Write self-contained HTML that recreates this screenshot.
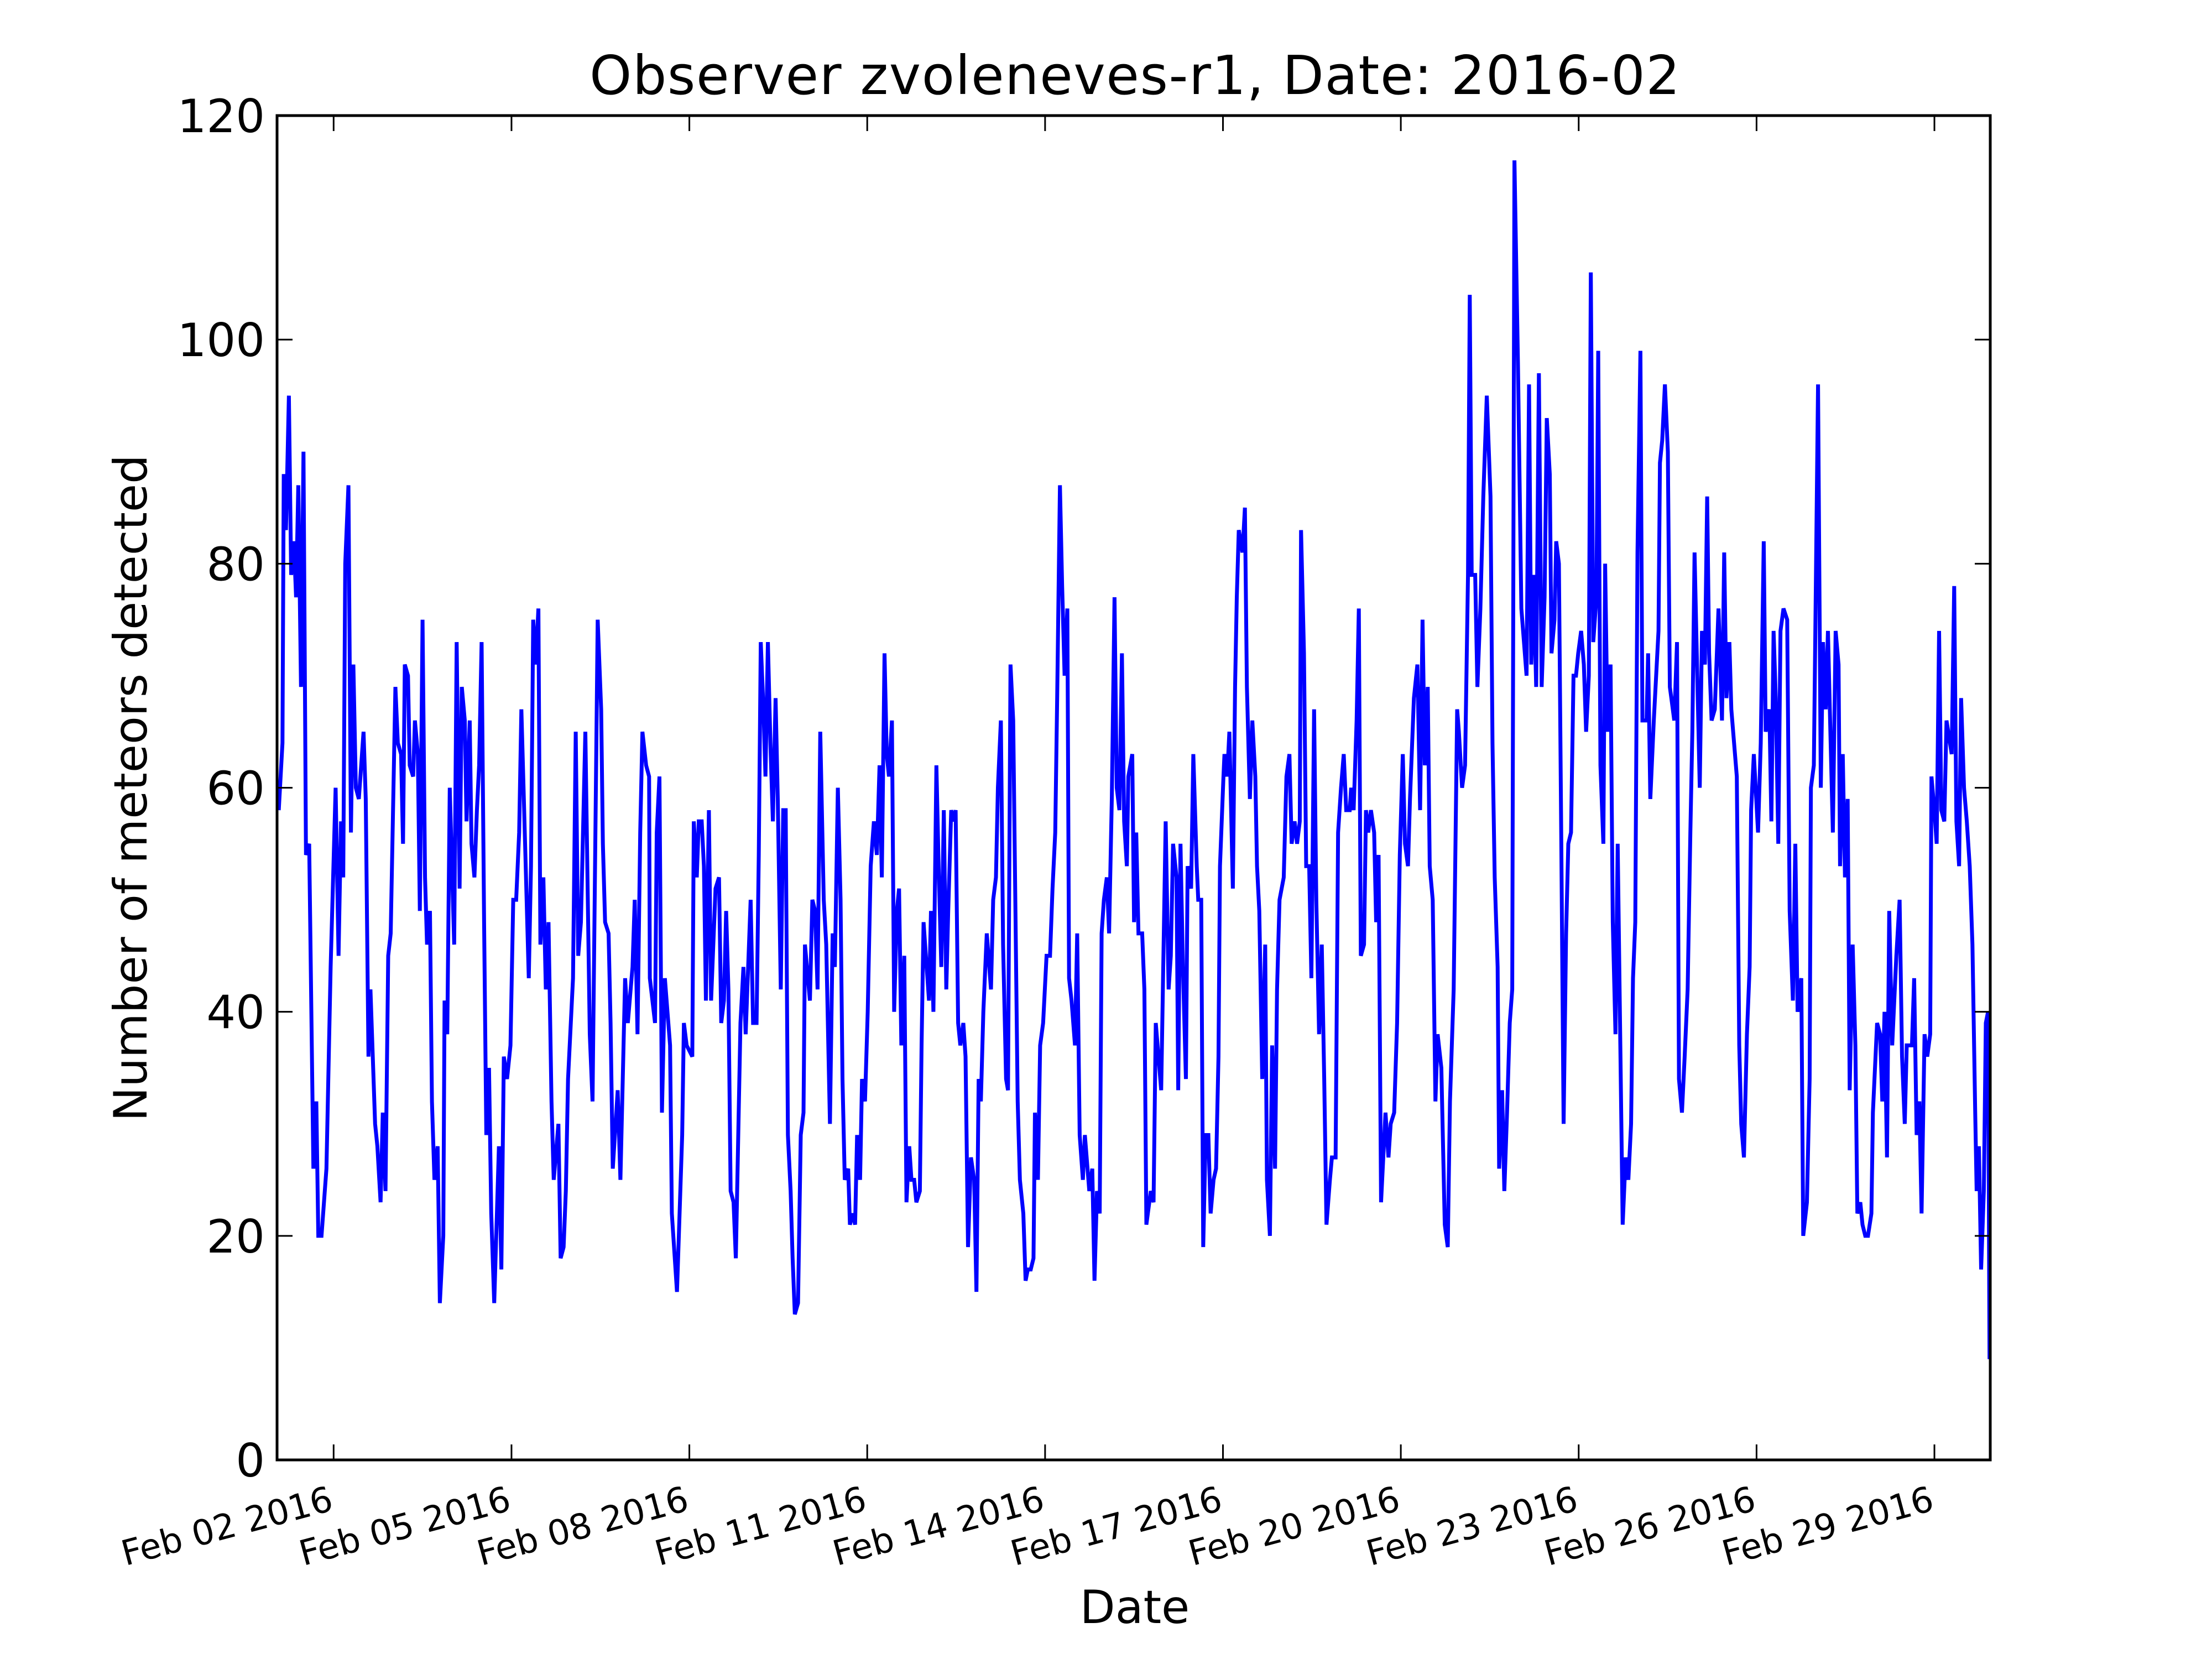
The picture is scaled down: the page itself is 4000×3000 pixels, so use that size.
<!DOCTYPE html>
<html>
<head>
<meta charset="utf-8">
<style>
html,body{margin:0;padding:0;background:#fff;}
svg{display:block;}
text{font-family:"DejaVu Sans","Liberation Sans",sans-serif;fill:#000;}
</style>
</head>
<body>
<svg id="chart" width="4000" height="3000" viewBox="0 0 4000 3000" xmlns="http://www.w3.org/2000/svg">
<rect x="0" y="0" width="4000" height="3000" fill="#fff"/>
<text x="2052" y="170" font-size="97" text-anchor="middle" textLength="1972">Observer zvoleneves-r1, Date: 2016-02</text>
<text x="2052" y="2935" font-size="83" text-anchor="middle">Date</text>
<text transform="translate(265,1425) rotate(-90)" font-size="83" text-anchor="middle">Number of meteors detected</text>
<g id="series"></g>
<g id="axes"></g>
</svg>
<script>
// hours since 2016-02-01 00:00
const hours = [1.8,3.3,3.8,4.7,5.9,6.8,7.9,8.8,9.7,10.8,11.8,12.8,14.1,15.8,17,17.8,19.1,21.1,22.8,24.8,26,27,27.9,28.7,30,31,32,33,34.2,36.1,37,38.1,38.9,40.8,41.7,43,43.9,45,46.1,47.1,49,50,51.3,52.1,52.8,54.1,54.8,56.2,56.9,58.1,58.9,60,61,61.8,63,63.8,64.8,66.1,67,68.4,68.9,70,71,72.8,73.8,75,75.9,77.1,77.8,79.1,79.8,81,82,82.9,83.9,84.9,85.8,86.9,87.8,89,90.9,91.9,92.9,94.2,95.6,96.7,97.9,99.1,100,101,103,103.9,104.8,105.8,106.9,107.7,108.9,109.9,111,112.2,113.1,115,115.9,117.1,118,118.9,120.9,122,123,124.1,125.9,127.7,128.8,130.9,132.3,133,133.9,135.3,136.1,137,139,140.1,142,143.1,145,145.9,147,148.1,149,150.5,151.7,152,154.1,154.8,155.9,156.9,158.1,160.2,160.9,163,165.1,165.8,166.9,169.2,169.8,171,171.8,173,173.9,174.7,175.9,176.8,178.6,
180,180.9,182,182.9,183.8,184.7,185.9,186.8,188.7,189.9,190.8,192.8,193.8,195.2,196.1,196.9,198,198.8,199.8,200.8,201.8,202.9,203.8,205,206,207,207.9,209,209.8,210.7,212,213.1,214.2,214.8,216.8,217.8,218.9,219.9,221,222.4,223.4,224.9,226,226.9,228.1,229.2,230,230.9,232.3,233,234.2,235.1,235.9,237.1,237.9,239.1,240.2,241.4,242.7,243.9,245,245.9,247,247.9,248.8,250,250.9,252,252.9,253.8,255,255.9,257,257.9,259,259.9,261.3,262,262.8,265,265.8,266.8,268,269,270,271,272,272.8,274,274.9,275.8,276.8,277.7,278.9,279.8,280.8,282,283.3,284.2,285.1,286,287,288.4,290.1,291,292.1,292.9,294.1,295,296.2,297,298,299.1,300.9,301.8,303.2,304.1,305,306.2,307.3,307.9,309.1,310,311.2,312.6,314,315,316.1,316.9,318,318.9,319.9,321,321.7,322.7,324.1,325,326,327.3,328.1,329.9,331.1,332,333,334.1,334.9,335.8,337,337.9,339,340.1,341,342.1,343.1,344,345.1,345.7,347.3,348,348.9,349.8,351.3,352.2,353,354.8,
355.9,356.8,359,360.8,362,362.9,363.8,365.2,365.9,366.8,367.8,369,369.7,371.1,372,373.4,374,375.2,376,377,378.1,379,380.2,381.2,382.2,382.8,384.2,384.6,385.7,386.6,388,388.9,389.6,390.4,391.9,392.9,393.7,394.9,395.9,397.1,397.8,398.7,399.9,401.1,401.8,403,403.9,405.1,405.9,406.9,408.6,409.7,410.9,411.8,413,414,415.1,415.6,416.8,417.7,418.9,419.8,420.9,421.8,422.9,424,425,425.9,427.3,428.1,429.6,430.6,431.8,432.9,433.9,435.3,435.9,436.9,438.1,439,439.8,441.1,441.9,442.8,443.9,445.2,446,447,448,449.8,451,451.9,453.3,454.5,455.6,456.8,457.7,458.9,459.7,461.3,462.7,463.8,464.8,465.7,466.9,467.7,468.9,470,470.9,472.4,473.8,475,475.9,477.4,478.8,479.5,480.8,482,483.2,483.9,484.7,486.1,487,488.2,489.4,490.8,492.3,493.1,494,495.2,495.8,497,497.9,499,500.1,501.1,502,503.4,504.8,506.9,507.9,508.8,509.7,510.8,511.9,513,514.2,515.1,516.3,517,518.2,518.9,520,521,521.9,522.9,523.8,524.9,525.9,526.9,527.8,529,530.1,531,532.1,532.9,533.9,
535.2,535.9,536.8,538,538.7,539.7,540.9,541.8,542.9,543.8,545.8,547,548.1,549.2,550,550.9,551.8,553,553.8,555.5,556.1,557,558.4,560.3,560.9,561.8,562.9,564.1,564.9,565.5,566.7,567.8,568.6,569.8,570.9,572.1,573.2,574,574.9,575.8,577,577.9,579.1,580,580.8,581.8,583.1,584.6,586,586.9,587.8,589,589.8,592,593,593.8,594.9,596.1,597.2,597.8,598.9,600.6,601.7,602.9,603.7,605.2,606,606.9,607.8,608.8,609.7,610.9,612.4,613.4,614.7,615.7,616.6,618.1,618.9,620.4,621.5,622,623.2,624,624.9,626,626.9,628,628.9,630,630.9,632,633.2,633.8,634.9,635.8,636.9,637.7,638.9,640,640.8,642,642.9,644,645.1,646.5,647.1,648.8,650,650.9,651.8,652.8,653.7,654.9,656.6,657.9,658.9,660,660.8,662.9,663.8,664.8,665.9,666.8,668,669.1,670.3,670.8,672,672.9,673.9,674.8,676,676.9,679,680,680.9,682,682.8,684,685.1,686.3,687.4,688.5,689.1,690,690.9,692,692.8,693.7,694.3];
const counts = [58,64,88,83,95,79,82,77,87,69,90,54,55,26,32,20,20,26,44,60,45,57,52,80,87,56,71,60,59,65,59,36,42,30,28,23,31,24,45,47,69,64,63,55,71,70,62,61,66,63,49,75,52,46,49,32,25,28,14,20,41,38,60,46,73,51,69,66,57,66,55,52,58,62,73,48,29,35,22,14,28,17,36,34,37,50,50,56,67,59,43,53,75,71,76,46,52,42,48,32,25,30,18,19,24,34,43,65,45,48,65,38,32,75,67,55,48,47,39,26,33,25,43,39,44,50,38,56,65,62,61,43,39,56,61,31,43,37,22,15,29,39,37,36,57,52,57,57,53,41,58,41,51,
52,39,41,49,42,24,23,18,39,44,38,50,39,39,54,73,67,61,73,64,57,68,59,42,58,58,29,24,18,13,14,29,31,46,41,50,49,42,65,50,46,30,47,44,60,50,34,25,26,21,22,21,29,25,34,32,40,53,57,54,62,52,72,63,61,66,40,49,51,37,45,23,28,25,25,23,24,37,48,41,49,40,62,52,44,58,42,49,58,57,58,39,37,39,36,19,27,25,15,34,32,40,47,42,50,52,60,66,46,34,33,71,66,32,25,22,16,17,17,18,31,25,37,39,45,45,51,56,68,87,78,70,76,43,41,37,47,29,25,29,24,26,16,24,22,47,50,52,47,59,77,60,58,72,57,53,61,63,48,56,47,47,42,21,24,
23,39,33,57,42,45,55,52,33,55,44,34,53,51,63,53,50,50,19,29,29,22,25,26,36,53,61,63,61,65,51,69,77,83,81,85,69,59,66,61,53,49,34,46,25,20,37,26,42,50,52,61,63,55,57,55,57,83,72,53,53,43,67,50,38,46,34,21,25,27,27,56,60,63,58,58,60,58,66,76,45,46,58,56,58,56,48,54,23,31,27,30,31,39,54,63,55,53,59,68,71,58,75,62,69,53,50,32,38,35,21,19,32,42,67,65,60,62,79,104,79,79,69,76,86,95,86,64,52,44,26,33,24,31,39,42,116,98,76,70,96,71,79,69,97,69,77,93,88,72,75,82,80,54,30,47,55,56,70,70,72,74,71,65,70,106,73,
77,99,62,55,80,65,71,48,38,55,21,27,25,30,43,48,81,99,66,66,72,59,66,74,89,91,96,90,69,68,66,73,34,31,36,42,56,65,81,72,60,74,71,86,72,66,67,76,66,81,68,73,67,61,37,30,27,38,44,58,63,56,64,82,65,67,57,74,68,55,74,76,75,49,41,55,40,43,20,23,34,60,62,78,96,60,73,67,74,64,56,74,71,53,63,52,59,33,46,37,22,23,21,20,20,22,31,39,38,32,40,27,49,37,45,50,36,30,37,37,43,29,32,22,38,36,38,61,58,55,74,58,57,66,63,78,57,53,68,60,57,53,46,31,24,28,17,24,39,40,9];
const yTickValues = [0,20,40,60,80,100,120];
const xTickHours = [24,96,168,240,312,384,456,528,600,672];
const xTickLabels = ["Feb 02 2016","Feb 05 2016","Feb 08 2016","Feb 11 2016","Feb 14 2016","Feb 17 2016","Feb 20 2016","Feb 23 2016","Feb 26 2016","Feb 29 2016"];

const NS = "http://www.w3.org/2000/svg";
const L = 501, R = 3599, T = 209, B = 2640;
const tMin = 1.1, tMax = 694.6, vMax = 120;
function xScale(t){ return L + (t - tMin) / (tMax - tMin) * (R - L); }
function yScale(v){ return B - v / vMax * (B - T); }

const series = document.getElementById('series');
const axes = document.getElementById('axes');

const clip = document.createElementNS(NS,'clipPath');
clip.setAttribute('id','plotclip');
const cr = document.createElementNS(NS,'rect');
cr.setAttribute('x',L); cr.setAttribute('y',T); cr.setAttribute('width',R-L); cr.setAttribute('height',B-T);
clip.appendChild(cr);
document.getElementById('chart').appendChild(clip);

let d = '';
for (let i = 0; i < hours.length; i++) {
  d += (i ? 'L' : 'M') + xScale(hours[i]).toFixed(1) + ',' + yScale(counts[i]).toFixed(1);
}
const line = document.createElementNS(NS,'path');


line.setAttribute('d', d);
line.setAttribute('fill','none');
line.setAttribute('stroke','#0000ff');
line.setAttribute('stroke-width','7');
line.setAttribute('stroke-linejoin','miter');
line.setAttribute('clip-path','url(#plotclip)');
series.appendChild(line);

// frame
const frame = document.createElementNS(NS,'rect');


frame.setAttribute('x',L); frame.setAttribute('y',T);
frame.setAttribute('width',R-L); frame.setAttribute('height',B-T);
frame.setAttribute('fill','none'); frame.setAttribute('stroke','#000'); frame.setAttribute('stroke-width','5');
axes.appendChild(frame);

function tick(x1,y1,x2,y2,name){
  const l = document.createElementNS(NS,'line');
  
  
  l.setAttribute('x1',x1); l.setAttribute('y1',y1); l.setAttribute('x2',x2); l.setAttribute('y2',y2);
  l.setAttribute('stroke','#000'); l.setAttribute('stroke-width','3');
  axes.appendChild(l);
}

yTickValues.forEach(v => {
  const y = yScale(v);
  tick(L, y, L + 28, y, 'y-tick');
  tick(R, y, R - 28, y, 'y-tick-right');
  const t = document.createElementNS(NS,'text');
  
  
  t.setAttribute('x', L - 22);
  t.setAttribute('y', y + 30);
  t.setAttribute('font-size','83');
  t.setAttribute('text-anchor','end');
  t.textContent = String(v);
  axes.appendChild(t);
});

xTickHours.forEach((h, i) => {
  const x = xScale(h);
  tick(x, B, x, B - 28, 'x-tick');
  tick(x, T, x, T + 28, 'x-tick-top');
  const t = document.createElementNS(NS,'text');
  
  
  t.setAttribute('x', 0);
  t.setAttribute('y', 0);
  t.setAttribute('font-size','63');
  t.setAttribute('text-anchor','end');
  t.setAttribute('transform','translate(' + (x + 2) + ',' + (B + 90) + ') rotate(-15)');
  t.textContent = xTickLabels[i];
  axes.appendChild(t);
});
</script>
</body>
</html>
